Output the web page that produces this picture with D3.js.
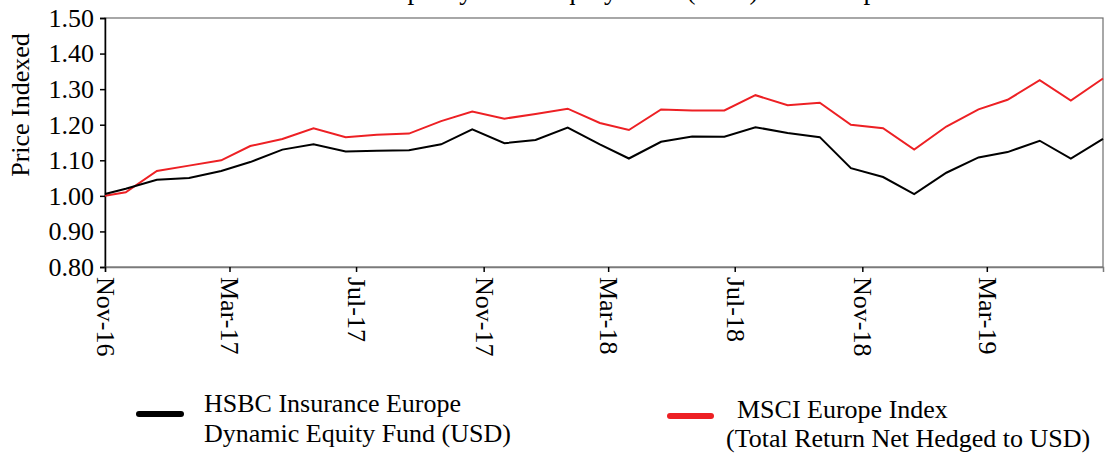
<!DOCTYPE html>
<html>
<head>
<meta charset="utf-8">
<script src="https://cdn.jsdelivr.net/npm/d3@7"></script>
<style>
  body { margin: 0; background: #fff; }
  text { font-family: "Liberation Serif", "Times New Roman", serif; fill: #000; }
</style>
</head>
<body>
<svg width="1107" height="456"></svg>
<script>
var dates = ["2016-11-01", "2016-11-21", "2016-12-21", "2017-01-21", "2017-02-21", "2017-03-21",
  "2017-04-21", "2017-05-21", "2017-06-21", "2017-07-21", "2017-08-21", "2017-09-21",
  "2017-10-21", "2017-11-21", "2017-12-21", "2018-01-21", "2018-02-21", "2018-03-21",
  "2018-04-21", "2018-05-21", "2018-06-21", "2018-07-21", "2018-08-21", "2018-09-21",
  "2018-10-21", "2018-11-21", "2018-12-21", "2019-01-21", "2019-02-21", "2019-03-21",
  "2019-04-21", "2019-05-21", "2019-06-21"]
var fund = [1.005, 1.02, 1.045, 1.05, 1.07, 1.095, 1.13, 1.145, 1.125, 1.127, 1.128, 1.145,
  1.187, 1.148, 1.157, 1.192, 1.145, 1.105, 1.152, 1.167, 1.166, 1.193, 1.177, 1.165,
  1.078, 1.053, 1.005, 1.065, 1.108, 1.123, 1.155, 1.105, 1.16]
var msci = [1.00, 1.01, 1.07, 1.085, 1.10, 1.14, 1.16, 1.19, 1.165, 1.172, 1.175, 1.21,
  1.237, 1.217, 1.23, 1.245, 1.205, 1.185, 1.243, 1.24, 1.24, 1.283, 1.255, 1.262,
  1.20, 1.19, 1.13, 1.195, 1.243, 1.27, 1.325, 1.268, 1.33]
var yTicks = [0.80, 0.90, 1.00, 1.10, 1.20, 1.30, 1.40, 1.50]
var xTicks = ["2016-11-01", "2017-03-01", "2017-07-01", "2017-11-01", "2018-03-01",
  "2018-07-01", "2018-11-01", "2019-03-01"]
var seriesNames = [["HSBC Insurance Europe", "Dynamic Equity Fund (USD)"],
  ["MSCI Europe Index", "(Total Return Net Hedged to USD)"]]
var title = "HSBC Insurance Europe Dynamic Equity Fund (USD) and Europe Index"

var parse = d3.timeParse("%Y-%m-%d")
var fmt = d3.timeFormat("%b-%y")
var plotL = 105, plotR = 1103, plotT = 18, plotB = 267

var svg = d3.select("svg")

var x = d3.scaleTime()
  .domain([parse(dates[0]), parse(dates[dates.length - 1])])
  .range([plotL, plotR])
var y = d3.scaleLinear()
  .domain([0.8, 1.5])
  .range([plotB, plotT])

// title, cut off at the top edge (only descenders show)
svg.append("text")
  .attr("x", 166)
  .attr("y", -1)
  .attr("font-size", 27)
  .text(title)

// frame
svg.append("rect")
  .attr("x", plotL).attr("y", plotT)
  .attr("width", plotR - plotL).attr("height", plotB - plotT)
  .attr("fill", "none").attr("stroke", "#6e6e6e").attr("stroke-width", 1.2)

var yAxis = svg.append("g")
  .attr("transform", "translate(" + plotL + ",0)")
  .call(d3.axisLeft(y).tickValues(yTicks).tickFormat(d3.format(".2f")).tickSize(5).tickPadding(6))
yAxis.select(".domain").attr("stroke", "#000").attr("stroke-width", 1.5)
yAxis.selectAll("line").attr("stroke-width", 1.5)
yAxis.selectAll("text").attr("font-size", 26)

var xAxis = svg.append("g")
  .attr("transform", "translate(0," + plotB + ")")
  .call(d3.axisBottom(x).tickValues(xTicks.map(parse)).tickFormat(fmt).tickSize(5).tickPadding(0))
xAxis.select(".domain").attr("stroke", "#7a7a7a").attr("stroke-width", 1.5)
xAxis.selectAll("line").attr("stroke-width", 1.5)
xAxis.selectAll("text")
  .attr("font-size", 26)
  .attr("text-anchor", "start")
  .attr("transform", "rotate(90)")
  .attr("x", 10)
  .attr("y", 0)
  .attr("dy", "0.33em")

// y label
svg.append("text")
  .attr("transform", "translate(29,105) rotate(-90)")
  .attr("text-anchor", "middle")
  .attr("font-size", 26)
  .text("Price Indexed")

var line = d3.line()
  .x(function(d, i) { return x(parse(dates[i])) })
  .y(function(d) { return y(d) })

svg.append("path")
  .datum(msci)
  .attr("d", line)
  .attr("fill", "none")
  .attr("stroke", "#ed2024")
  .attr("stroke-width", 2)

svg.append("path")
  .datum(fund)
  .attr("d", line)
  .attr("fill", "none")
  .attr("stroke", "#000")
  .attr("stroke-width", 2)

// legend
var legend = [
  { color: "#000", x1: 139, x2: 181, ly: 414, tx: [204, 204], ty: [412, 442] },
  { color: "#ed2024", x1: 670, x2: 711, ly: 416, tx: [737, 726], ty: [418, 447] }
]
legend.forEach(function(l, i) {
  svg.append("line")
    .attr("x1", l.x1).attr("x2", l.x2)
    .attr("y1", l.ly).attr("y2", l.ly)
    .attr("stroke", l.color)
    .attr("stroke-width", 6)
    .attr("stroke-linecap", "round")
  seriesNames[i].forEach(function(s, j) {
    svg.append("text")
      .attr("x", l.tx[j])
      .attr("y", l.ty[j])
      .attr("font-size", 26)
      .text(s)
  })
})
</script>
</body>
</html>
